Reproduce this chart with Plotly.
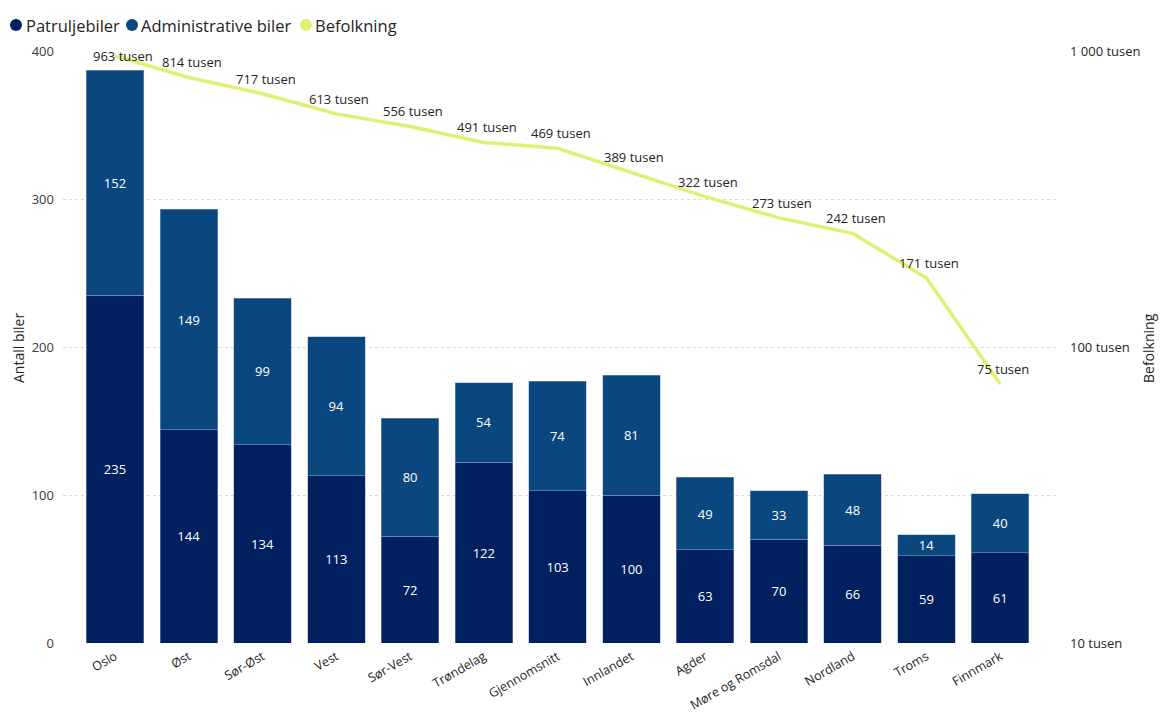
import math
import plotly.graph_objects as go

categories = ["Oslo", "Øst", "Sør-Øst", "Vest", "Sør-Vest", "Trøndelag", "Gjennomsnitt",
              "Innlandet", "Agder", "Møre og Romsdal", "Nordland", "Troms", "Finnmark"]
patrulje = [235, 144, 134, 113, 72, 122, 103, 100, 63, 70, 66, 59, 61]
admin = [152, 149, 99, 94, 80, 54, 74, 81, 49, 33, 48, 14, 40]
befolkning = [963, 814, 717, 613, 556, 491, 469, 389, 322, 273, 242, 171, 75]  # tusen
series_names = ["Patruljebiler", "Administrative biler", "Befolkning"]

c_patr = "#012060"
c_admin = "#0B477F"
c_line = "#E2EF72"
txt = "#252423"
font_family = "Segoe UI, Open Sans, Noto Sans, sans-serif"

# plot area in pixels
W, H = 1161, 718
L, R, T, B = 63, 104, 51, 75
pw, ph = W - L - R, H - T - B
Y2_RANGE = [1, 3]


def px_x(x):
    return (x - L) / pw


def px_y(y):
    return (H - B - y) / ph


edge = dict(color="rgba(150,168,205,0.7)", width=0.7)

fig = go.Figure()
fig.add_trace(go.Bar(x=categories, y=patrulje, name=series_names[0], marker=dict(color=c_patr, line=edge),
                     text=[str(v) for v in patrulje], textposition="inside", insidetextanchor="middle",
                     textangle=0, constraintext="none",
                     textfont=dict(color="white", size=13), showlegend=False))
fig.add_trace(go.Bar(x=categories, y=admin, name=series_names[1], marker=dict(color=c_admin, line=edge),
                     text=[str(v) for v in admin], textposition="inside", insidetextanchor="middle",
                     textangle=0, constraintext="none",
                     textfont=dict(color="white", size=13), showlegend=False))
fig.add_trace(go.Scatter(x=categories, y=befolkning, name=series_names[2], yaxis="y2", mode="lines",
                         line=dict(color=c_line, width=3.5), showlegend=False))

annotations = []
shapes = []
# line data labels: placed above the point, or on the point when no room above
for cat, v in zip(categories, befolkning):
    room_px = (Y2_RANGE[1] - math.log10(v)) / (Y2_RANGE[1] - Y2_RANGE[0]) * ph
    ys = 15 if room_px > 15 else 0
    xs = 3 if room_px > 15 else 8
    annotations.append(dict(x=cat, y=math.log10(v), xref="x", yref="y2", text=f"{v} tusen",
                            showarrow=False, xanchor="center", yanchor="middle", yshift=ys, xshift=xs,
                            font=dict(size=13, color=txt)))

# custom legend (circle marker + label)
legend_items = [(series_names[0], c_patr, 16, 24), (series_names[1], c_admin, 132, 139),
                (series_names[2], c_line, 306, 313)]
for nm, col, mx, tx in legend_items:
    shapes.append(dict(type="circle", xref="paper", yref="paper", xsizemode="pixel", ysizemode="pixel",
                       xanchor=px_x(mx), yanchor=px_y(25), x0=-6, x1=6, y0=-6, y1=6,
                       fillcolor=col, line=dict(width=0)))
    annotations.append(dict(x=px_x(tx), y=px_y(25), xref="paper", yref="paper", text=nm,
                            showarrow=False, xanchor="left", yanchor="middle",
                            font=dict(size=16.5, color=txt)))
# axis titles
annotations.append(dict(x=px_x(18), y=px_y(348), xref="paper", yref="paper", text="Antall biler",
                        showarrow=False, textangle=-90, xanchor="center", yanchor="middle",
                        font=dict(size=14, color=txt)))
annotations.append(dict(x=px_x(1148), y=px_y(348), xref="paper", yref="paper", text="Befolkning",
                        showarrow=False, textangle=-90, xanchor="center", yanchor="middle",
                        font=dict(size=14, color=txt)))

fig.update_layout(
    width=W, height=H,
    barmode="stack", bargap=0.22,
    paper_bgcolor="white", plot_bgcolor="white",
    font=dict(family=font_family, color=txt, size=13),
    margin=dict(l=L, r=R, t=T, b=B, autoexpand=False),
    showlegend=False,
    annotations=annotations,
    shapes=shapes,
    xaxis=dict(type="category", range=[-0.705, 12.77], tickangle=-30, showgrid=False, automargin=False,
               tickfont=dict(size=12.5, color=txt), showline=False, ticks="", ticklabelstandoff=3),
    yaxis=dict(range=[0, 400], tickvals=[0, 100, 200, 300, 400], showgrid=True, automargin=False,
               gridcolor="#d9d9d9", griddash="dot", gridwidth=1, zeroline=False,
               tickfont=dict(size=13, color="#3b3a39"), ticks="", ticklabelstandoff=8),
    yaxis2=dict(type="log", range=Y2_RANGE, overlaying="y", side="right", automargin=False,
                tickvals=[10, 100, 1000], ticktext=["10 tusen", "100 tusen", "1 000 tusen"],
                showgrid=False, zeroline=False,
                tickfont=dict(size=13, color=txt), ticks="", ticklabelstandoff=12),
)

fig.write_html("out.html", post_script="document.body.style.margin='0';",
               config={"displayModeBar": False})
